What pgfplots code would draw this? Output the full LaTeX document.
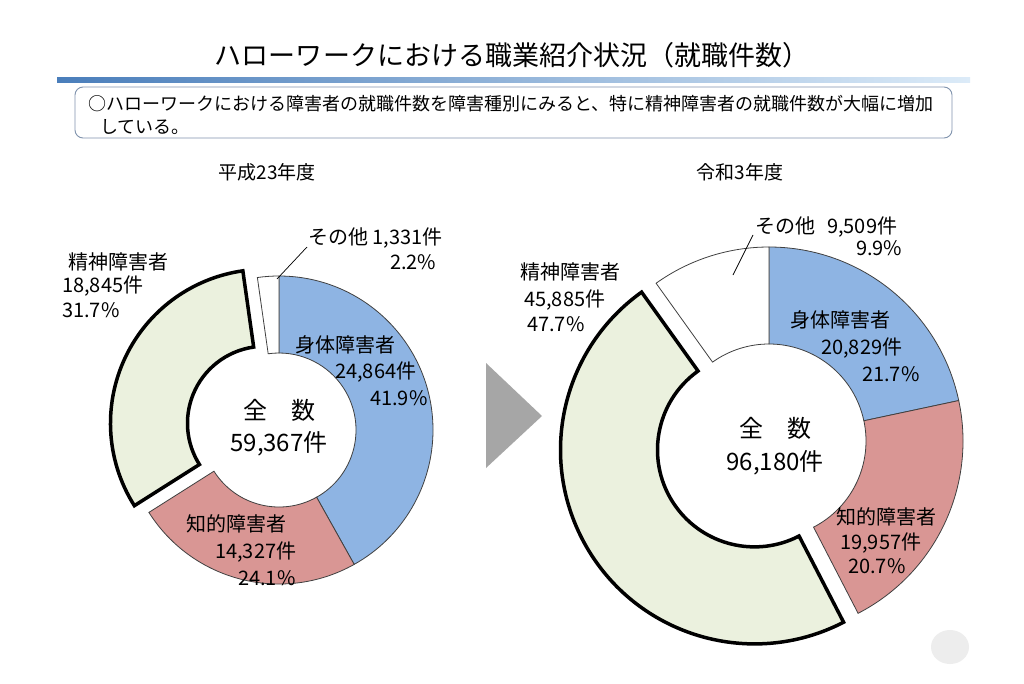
\documentclass[border=0pt]{standalone}
\usepackage{fontspec}
\setmainfont{Noto Sans CJK JP}
\usepackage{pgfplots}
\pgfplotsset{compat=1.18}
\usepackage{pgfplotstable}

\definecolor{shintai}{HTML}{8EB4E3}
\definecolor{chiteki}{HTML}{D99694}
\definecolor{seishin}{HTML}{EBF1DE}
\definecolor{edgegray}{HTML}{404040}
\definecolor{boxgray}{HTML}{8093AD}
\definecolor{barL}{HTML}{4A7EBB}
\definecolor{barM}{HTML}{6FA8DC}
\definecolor{barR}{HTML}{DCEBF8}
\definecolor{arrowgray}{HTML}{A6A6A6}

% job placements by disability type: FY H23 and FY R3
\pgfplotstableread{
grp      h23    r3
shintai  24864  20829
chiteki  14327  19957
seishin  18845  45885
sonota   1331   9509
}\donutdata

\pgfplotstablegetelem{0}{h23}\of\donutdata\let\hA\pgfplotsretval
\pgfplotstablegetelem{1}{h23}\of\donutdata\let\hB\pgfplotsretval
\pgfplotstablegetelem{2}{h23}\of\donutdata\let\hC\pgfplotsretval
\pgfplotstablegetelem{3}{h23}\of\donutdata\let\hD\pgfplotsretval
\pgfplotstablegetelem{0}{r3}\of\donutdata\let\rA\pgfplotsretval
\pgfplotstablegetelem{1}{r3}\of\donutdata\let\rB\pgfplotsretval
\pgfplotstablegetelem{2}{r3}\of\donutdata\let\rC\pgfplotsretval
\pgfplotstablegetelem{3}{r3}\of\donutdata\let\rD\pgfplotsretval
\edef\hT{\fpeval{\hA+\hB+\hC+\hD}}
\edef\rT{\fpeval{\rA+\rB+\rC+\rD}}

% ring sector, clockwise from 12 o'clock
% #1 cx, #2 cy, #3 r inner, #4 r outer, #5 start frac, #6 end frac, #7 explode, #8 style
\newcommand{\ringsector}[8]{%
  \edef\aS{\fpeval{90-360*(#5)}}%
  \edef\aE{\fpeval{90-360*(#6)}}%
  \edef\aM{\fpeval{(\aS+\aE)/2}}%
  \edef\temp{\noexpand\draw[#8]
    ([shift={(\aM:#7bp)},shift={(\aS:#4bp)}]axis cs:#1,#2)
    arc[start angle=\aS, end angle=\aE, radius=#4bp]
    -- ([shift={(\aM:#7bp)},shift={(\aE:#3bp)}]axis cs:#1,#2)
    arc[start angle=\aE, end angle=\aS, radius=#3bp] -- cycle;}%
  \temp}

\newcommand{\lbl}{\fontsize{20bp}{24bp}\selectfont}
\newcommand{\ctr}{\fontsize{24bp}{28bp}\selectfont}

\begin{document}
\begin{tikzpicture}
\begin{axis}[
  width=1024bp, height=683bp, scale only axis,
  xmin=0, xmax=1024, ymin=0, ymax=683,
  y dir=reverse, hide axis, clip=false]

\fill[white] (axis cs:0,0) rectangle (axis cs:1024,683);

% title + bar
\node[font=\fontsize{27bp}{30bp}\selectfont] at (axis cs:512,55)
  {ハローワークにおける職業紹介状況（就職件数）};
\shade[left color=barL, middle color=barM, right color=barR]
  (axis cs:57,77) rectangle (axis cs:970,82);

% summary box
\draw[boxgray, line width=0.9bp, rounded corners=8bp]
  (axis cs:75,87) rectangle (axis cs:952,138);
\node[anchor=west, font=\fontsize{18bp}{20bp}\selectfont, inner sep=0pt] at (axis cs:88,104)
  {○ハローワークにおける障害者の就職件数を障害種別にみると、特に精神障害者の就職件数が大幅に増加};
\node[anchor=west, font=\fontsize{18bp}{20bp}\selectfont, inner sep=0pt] at (axis cs:100,127)
  {している。};

% subtitles
\node[font=\fontsize{19bp}{22bp}\selectfont] at (axis cs:267,172) {平成23年度};
\node[font=\fontsize{19bp}{22bp}\selectfont] at (axis cs:740,172) {令和3年度};

% ---- left donut (H23)
\ringsector{279}{430}{77}{154}{0}{\hA/\hT}{0}{fill=shintai, draw=edgegray, line width=0.8bp}
\ringsector{279}{430}{77}{154}{\hA/\hT}{(\hA+\hB)/\hT}{0}{fill=chiteki, draw=edgegray, line width=0.8bp}
\ringsector{279}{430}{77}{154}{(\hA+\hB+\hC)/\hT}{1}{0}{fill=white, draw=edgegray, line width=0.8bp}
\ringsector{279}{430}{77}{154}{(\hA+\hB)/\hT}{(\hA+\hB+\hC)/\hT}{16}{fill=seishin, draw=black, line width=3.5bp, line join=miter}

% ---- right donut (R3)
\ringsector{769}{441}{97}{194}{0}{\rA/\rT}{0}{fill=shintai, draw=edgegray, line width=0.8bp}
\ringsector{769}{441}{97}{194}{\rA/\rT}{(\rA+\rB)/\rT}{0}{fill=chiteki, draw=edgegray, line width=0.8bp}
\ringsector{769}{441}{97}{194}{(\rA+\rB+\rC)/\rT}{1}{0}{fill=white, draw=edgegray, line width=0.8bp}
\ringsector{769}{441}{97}{194}{(\rA+\rB)/\rT}{(\rA+\rB+\rC)/\rT}{17}{fill=seishin, draw=black, line width=3.5bp, line join=miter}

% arrow
\fill[arrowgray] (axis cs:486,363) -- (axis cs:542,416) -- (axis cs:486,468) -- cycle;

% leader lines
\draw[black, line width=0.7bp] (axis cs:307,247) -- (axis cs:277,279);
\draw[black, line width=0.7bp] (axis cs:753,235) -- (axis cs:733,275);

% labels, left
\begin{scope}[every node/.style={anchor=west, inner sep=0pt, font=\lbl}]
\node at (axis cs:68,262) {精神障害者};
\node at (axis cs:62,286) {18,845件};
\node at (axis cs:62,310) {31.7\%};
\node at (axis cs:308,238) {その他 1,331件};
\node at (axis cs:390,262) {2.2\%};
\node at (axis cs:295,345) {身体障害者};
\node at (axis cs:335,372) {24,864件};
\node at (axis cs:370,398) {41.9\%};
\node at (axis cs:186,524) {知的障害者};
\node at (axis cs:215,552) {14,327件};
\node at (axis cs:238,578) {24.1\%};
% labels, right
\node at (axis cs:755,227) {その他\hspace{0.6em}9,509件};
\node at (axis cs:856,248) {9.9\%};
\node at (axis cs:520,272) {精神障害者};
\node at (axis cs:524,300) {45,885件};
\node at (axis cs:527,324) {47.7\%};
\node at (axis cs:790,320) {身体障害者};
\node at (axis cs:821,348) {20,829件};
\node at (axis cs:862,374) {21.7\%};
\node at (axis cs:836,517) {知的障害者};
\node at (axis cs:840,543) {19,957件};
\node at (axis cs:848,566) {20.7\%};
\end{scope}

% totals
\node[font=\ctr] at (axis cs:279,410) {全　数};
\node[font=\ctr] at (axis cs:279,444) {59,367件};
\node[font=\ctr] at (axis cs:775,428) {全　数};
\node[font=\ctr] at (axis cs:775,463) {96,180件};

% page mark
\fill[black!7] (axis cs:950,647) ellipse[x radius=19bp, y radius=17bp];
\end{axis}
\end{tikzpicture}
\end{document}
